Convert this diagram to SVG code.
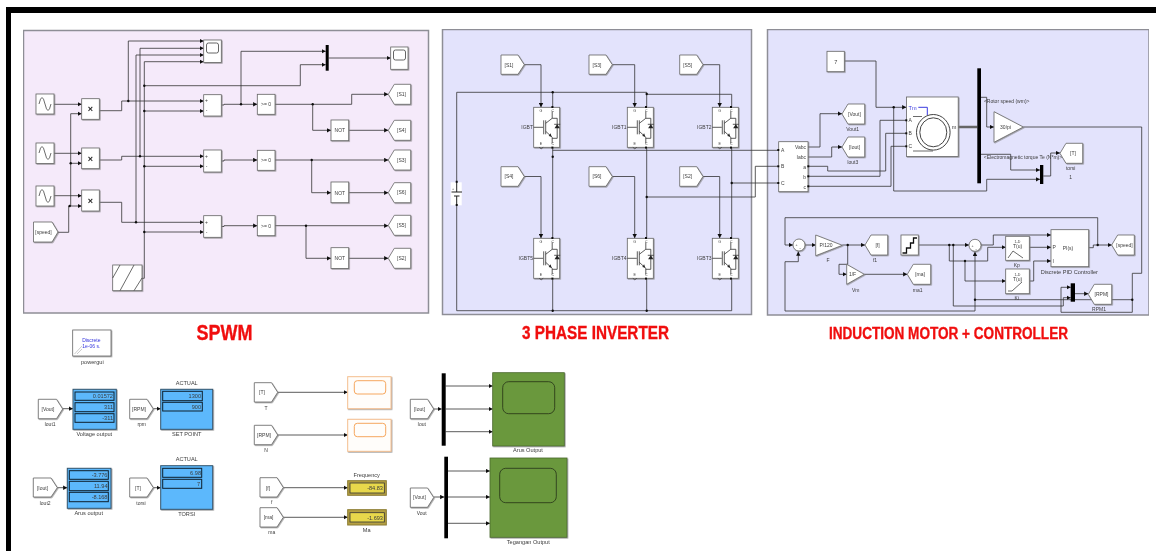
<svg xmlns="http://www.w3.org/2000/svg" width="1156" height="551" viewBox="0 0 1156 551">
<style>
text{font-family:"Liberation Sans",Arial,sans-serif;fill:#3c3c3c;font-size:5.6px;text-anchor:middle}
.s{font-size:5px}.xs{font-size:3.6px}
.l{text-anchor:start}.r{text-anchor:end}
.ttl{fill:#f01010;font-weight:bold;stroke:#f01010;stroke-width:.35}
.b{fill:#fff;stroke:#666;stroke-width:.8;filter:url(#sh)}
.w{fill:none;stroke:#333;stroke-width:.8}
.a{marker-end:url(#ar)}
.j{fill:#111}
.bar{fill:#000}
.p{stroke:#8e8e96;stroke-width:1.5}
.g{fill:none;stroke:#444;stroke-width:.8}
.d{fill:#5cb8fc;stroke:#33566e;stroke-width:1;filter:url(#sh)}
.f{fill:#5cb8fc;stroke:#10202c;stroke-width:1}
.gs{fill:#6a983c;stroke:#4a6a2a;stroke-width:.8;filter:url(#sh)}
.gi{fill:none;stroke:#2c3d1c;stroke-width:.9}
.os{fill:#fffdfa;stroke:#f5c090;stroke-width:1;filter:url(#sh)}
.oi{fill:none;stroke:#f6a75e;stroke-width:1}
.yd{fill:#b5a043;stroke:#8a7a30;stroke-width:1}
.yf{fill:#e8d84c;stroke:#333;stroke-width:.8}
</style>
<defs>
<filter id="sh" x="-10%" y="-10%" width="125%" height="125%"><feDropShadow dx=".8" dy=".8" stdDeviation=".4" flood-color="#777" flood-opacity=".7"/></filter>
<filter id="soft" x="0" y="0" width="100%" height="100%"><feGaussianBlur stdDeviation=".3"/></filter>
<marker id="ar" markerUnits="userSpaceOnUse" markerWidth="5" markerHeight="5" refX="4.2" refY="2.5" orient="auto"><path d="M0 .3 L4.2 2.500 L0 4.700Z" fill="#111"/></marker>
<g id="sine"><path d="M3 10Q6 -3 9 10T15 10" fill="none" stroke="#444" stroke-width=".8"/></g>
<g id="igbtg">
<path d="M0 20H9.500M10 13V27M12 13V27M12 16L18.500 11V4M12 24L18.500 30V36M18.500 11H23.500V31H18.500M20.500 17H26.500" fill="none" stroke="#333" stroke-width=".8"/>
<path d="M23.500 17L20.800 21H26.200Z" fill="#222"/><path d="M18 29.500L15 28.600L16.800 26Z" fill="#222"/>
<path d="M5.500 40Q7.500 43 9.500 40" fill="none" stroke="#333" stroke-width=".7"/>
<rect x="17.700" y="-1.300" width="2" height="2" fill="#111"/><rect x="17.700" y="39.300" width="2" height="2" fill="#111"/>
</g>
</defs>
<rect width="1156" height="551" fill="#fff"/>
<g id="frame" fill="#000"><rect x="6" y="7" width="1150" height="6"/><rect x="6" y="7" width="5" height="544"/></g>
<g filter="url(#soft)">
<g id="panels">
<rect class="p" x="23.500" y="30.500" width="405" height="282.500" fill="#f5eafa"/>
<rect class="p" x="442.500" y="29.500" width="309" height="285" fill="#e3e3fc"/>
<rect class="p" x="767.500" y="29.500" width="381.500" height="285.500" fill="#e3e3fc"/>
</g>
<g id="titles">
<text class="ttl" x="224.500" y="340" style="font-size:22px" textLength="56" lengthAdjust="spacingAndGlyphs">SPWM</text>
<text class="ttl" x="595.500" y="339" style="font-size:18px" textLength="147" lengthAdjust="spacingAndGlyphs">3 PHASE INVERTER</text>
<text class="ttl" x="948.500" y="339" style="font-size:16px" textLength="239" lengthAdjust="spacingAndGlyphs">INDUCTION MOTOR + CONTROLLER</text>
</g>
<g id="connectors">
<path class="w a" d="M54 104.300H81.700"/><path class="w a" d="M54 153.300H81.700"/><path class="w a" d="M54 195.700H81.700"/>
<path class="w" d="M58 232.300H68.700V206"/><path class="w a" d="M68.700 206H81.700"/><path class="w" d="M70.700 206V113.700"/><path class="w a" d="M70.700 113.700H81.700"/><path class="w a" d="M70.700 163.300H81.700"/>
<path class="w a" d="M99.300 110.700H121.700V101H203.700"/><path class="w a" d="M128.300 101V41H203.700"/>
<path class="w a" d="M99.300 160H121.700V156.300H203.700"/><path class="w a" d="M140 156.300V48.300H203.700"/>
<path class="w a" d="M99.300 202.300H121.700V222.300H203.700"/><path class="w a" d="M136 222.300V55H203.700"/>
<path class="w a" d="M142 278.300H144.300V61.700H203.700"/>
<path class="w a" d="M144.300 111H203.700"/><path class="w a" d="M144.300 166.300H203.700"/><path class="w a" d="M144.300 232H203.700"/>
<path class="w a" d="M144.300 85.700H300.300V64.700H325.700"/>
<path class="w a" d="M221.300 105H224V104.300H257.300"/><path class="w a" d="M241 104.300V51.300H325.700"/>
<path class="w a" d="M221.300 161H224V160H257.300"/><path class="w a" d="M221.300 226.500H224V225.700H257.300"/>
<path class="w a" d="M328.700 58H390.700"/>
<path class="w a" d="M275 104.300H351.700V94.300H388.300"/><path class="w a" d="M312.700 104.300V130.300H331"/><path class="w a" d="M348.700 130.300H388.300"/>
<path class="w a" d="M275 160H388.300"/><path class="w a" d="M311.700 160V192.700H331"/><path class="w a" d="M348.700 192.700H388.300"/>
<path class="w a" d="M275 225.700H388.300"/><path class="w a" d="M306 225.700V258.300H331"/><path class="w a" d="M348.700 258.300H388.300"/>
<g class="j"><circle cx="69.700" cy="206" r="1.200"/><circle cx="70.700" cy="163.300" r="1.200"/><circle cx="128.300" cy="101" r="1.200"/><circle cx="140" cy="156.300" r="1.200"/><circle cx="136" cy="222.300" r="1.200"/><circle cx="144.300" cy="85.700" r="1.200"/><circle cx="144.300" cy="111" r="1.200"/><circle cx="144.300" cy="166.300" r="1.200"/><circle cx="144.300" cy="232" r="1.200"/><circle cx="241" cy="104.300" r="1.200"/><circle cx="312.700" cy="104.300" r="1.200"/><circle cx="311.700" cy="160" r="1.200"/><circle cx="306" cy="225.700" r="1.200"/></g>
<path class="w a" d="M524.300 64.700H541V107.300"/><path class="w a" d="M612.300 64.700H634.700V107.300"/><path class="w a" d="M703 64.700H719.700V107.300"/>
<path class="w a" d="M524.300 176.500H541V238.300"/><path class="w a" d="M612.300 176.500H634.700V238.300"/><path class="w a" d="M703 176.500H719.700V238.300"/>
<path class="w" d="M456.700 182V92.300H646.700V94.300H731.700V107"/><path class="w" d="M552.700 92.300V107M646.700 94.300V107"/>
<path class="w" d="M456.700 205V310.700H731.700V278.300"/><path class="w" d="M552.700 310.700V278.300M646.700 310.700V278.300"/>
<path class="w" d="M552.700 147.300V238.300M646.700 147.300V238.300M731.700 147.300V238.300"/>
<path class="w" d="M552.700 150.300H778.700M646.700 197H755.300V166.300H778.700M731.700 183H778.700"/>
<g class="j"><circle cx="552.700" cy="92.300" r="1.200"/><circle cx="646.700" cy="94" r="1.200"/><circle cx="552.700" cy="156.700" r="1.200"/><circle cx="646.700" cy="197" r="1.200"/><circle cx="731.700" cy="183" r="1.200"/><circle cx="552.700" cy="310.700" r="1.200"/><circle cx="646.700" cy="310.700" r="1.200"/></g>
<path class="w a" d="M844.300 61H876V107.300H906.300"/>
<path class="w a" d="M808 147H820V113.700H842"/><path class="w a" d="M808 157H831.700V147H842"/>
<path class="w" d="M808 166.300H827.700V171H885.700V133.300H906.300"/><path class="w" d="M808 176.300H880V120.300H906.300"/><path class="w" d="M808 186.300H891V146.300H906.300"/>
<path class="w a" d="M893.700 107.300V191H986.700V179.300H1040"/>
<path d="M958 127H977.300" stroke="#666" stroke-width="2.500" fill="none"/>
<path class="w a" d="M981 97.300H986.700V127H994"/>
<path class="w a" d="M981 154.300H1010.700V170H1040"/>
<path class="w a" d="M1043.300 176H1050.700V153H1060"/>
<path class="w" d="M1023.300 127H1141.700V273.300H1132.300V312.300H1061V287.300"/><path class="w a" d="M1061 287.300H1070.700"/>
<path class="w" d="M1132.300 299.700H975"/>
<path class="w a" d="M975 299.700V251.700"/><path class="w" d="M975 299.700V311H785V261.700H798.300"/><path class="w a" d="M798.300 261.700V251.500"/>
<path class="w" d="M785 245V217.700H1097.700V245"/><path class="w a" d="M785 245H793"/>
<path class="w a" d="M805 245H815.700"/>
<path class="w a" d="M842.300 245H865"/><path class="w a" d="M847.700 245V264.300H839V274.300H846.700"/>
<path class="w a" d="M864.300 274.300H907.300"/>
<path class="w a" d="M918.300 245H969"/>
<path class="w" d="M949.300 245V261H987.700V247.300"/><path class="w a" d="M987.700 247.300H1005.700"/>
<path class="w a" d="M965 261V281H1005.700"/>
<path class="w" d="M953.300 245V306H1063.300V297.700"/><path class="w a" d="M1063.300 297.700H1070.700"/>
<path class="w a" d="M981 245H993.300V235H1051"/>
<path class="w a" d="M1029.300 247.300H1051"/><path class="w a" d="M1029.300 281H1033.700V261H1051"/>
<path class="w a" d="M1088.700 247.700H1093.300V245H1111.700"/>
<path class="w a" d="M1075 293.700H1088.300"/>
<g class="j"><circle cx="893.700" cy="107.300" r="1.200"/><circle cx="847.700" cy="245" r="1.200"/><circle cx="949.300" cy="245" r="1.200"/><circle cx="953.300" cy="245" r="1.200"/><circle cx="965" cy="261" r="1.200"/><circle cx="975" cy="299.700" r="1.200"/><circle cx="1097.700" cy="245" r="1.200"/><circle cx="1132.300" cy="299.700" r="1.200"/></g>
<path class="w a" d="M62.700 408.700H73"/><path class="w a" d="M153.300 408.700H160.700"/><path class="w a" d="M57.300 487.700H67.300"/><path class="w a" d="M153.300 487.700H160.700"/>
<path class="w a" d="M277.700 392.300H347.700"/><path class="w a" d="M277.700 435H347.700"/><path class="w a" d="M283.300 487.700H347.700"/><path class="w a" d="M283.300 517.300H347.700"/>
<path class="w a" d="M433.700 409H441.700"/><path class="w a" d="M445.700 386H492.700"/><path class="w a" d="M445.700 409H492.700"/><path class="w a" d="M445.700 431.700H492.700"/>
<path class="w a" d="M433.700 497H444.300"/><path class="w a" d="M448 471H490"/><path class="w a" d="M448 497H490"/><path class="w a" d="M448 523.300H490"/>
</g>
<g id="sine1"><rect class="b" x="36" y="94" width="18" height="20"/><use href="#sine" x="36" y="94"/></g>
<g id="sine2"><rect class="b" x="36" y="143" width="18" height="20.500"/><use href="#sine" x="36" y="143"/></g>
<g id="sine3"><rect class="b" x="36" y="186" width="18" height="20"/><use href="#sine" x="36" y="186"/></g>
<g id="speedFrom"><polygon class="b" points="33.500,222 52,222 58,232 52,242 33.500,242"/><text class="s" x="43.500" y="234">[speed]</text></g>
<g id="prod1"><rect class="b" x="81.700" y="98.700" width="17.600" height="20.600"/><text x="90.500" y="112" style="font-size:9px;font-weight:bold;fill:#222">×</text></g>
<g id="prod2"><rect class="b" x="81.700" y="148" width="17.600" height="20.700"/><text x="90.500" y="161.500" style="font-size:9px;font-weight:bold;fill:#222">×</text></g>
<g id="prod3"><rect class="b" x="81.700" y="190" width="17.600" height="21"/><text x="90.500" y="203.500" style="font-size:9px;font-weight:bold;fill:#222">×</text></g>
<g id="saw"><rect class="b" x="112.700" y="265" width="29.300" height="25.700"/><path class="g" d="M112.700 278L120 265M120 290.700L134 265M134 290.700L142 278"/></g>
<g id="scopeA"><rect class="b" x="203.700" y="40" width="17.600" height="22.500"/><rect x="206.500" y="43" width="12" height="10" rx="2" fill="#fff" stroke="#555" stroke-width=".9"/></g>
<g id="scopeB"><rect class="b" x="390.700" y="47" width="17.300" height="22.300"/><rect x="393.500" y="50" width="12" height="10" rx="2" fill="#fff" stroke="#555" stroke-width=".9"/></g>
<g id="muxA"><rect class="bar" x="325.700" y="45" width="3" height="25.700"/></g>
<g id="sum1"><rect class="b" x="203.700" y="94.700" width="17.600" height="21.300"/><text class="s" x="206.500" y="102">+</text><text class="s" x="206.500" y="112">-</text></g>
<g id="sum2"><rect class="b" x="203.700" y="150" width="17.600" height="22"/><text class="s" x="206.500" y="158">+</text><text class="s" x="206.500" y="168">-</text></g>
<g id="sum3"><rect class="b" x="203.700" y="215.700" width="17.600" height="21.600"/><text class="s" x="206.500" y="224">+</text><text class="s" x="206.500" y="234">-</text></g>
<g id="cmp1"><rect class="b" x="257.300" y="94.300" width="17.700" height="20"/><text class="s" x="266" y="106">&gt;= 0</text></g>
<g id="cmp2"><rect class="b" x="257.300" y="150.300" width="17.700" height="20"/><text class="s" x="266" y="162">&gt;= 0</text></g>
<g id="cmp3"><rect class="b" x="257.300" y="215.700" width="17.700" height="20"/><text class="s" x="266" y="227.500">&gt;= 0</text></g>
<g id="not1"><rect class="b" x="331" y="120" width="17.700" height="20.700"/><text class="s" x="339.800" y="132">NOT</text></g>
<g id="not2"><rect class="b" x="331" y="182" width="17.700" height="20.700"/><text class="s" x="339.800" y="194.500">NOT</text></g>
<g id="not3"><rect class="b" x="331" y="247.700" width="17.700" height="20.700"/><text class="s" x="339.800" y="260">NOT</text></g>
<g id="gS1"><polygon class="b" points="388.300,94.300 394.300,84.300 410.700,84.300 410.700,104.300 394.300,104.300"/><text class="s" x="401.500" y="96">[S1]</text></g>
<g id="gS4"><polygon class="b" points="388.300,130.300 394.300,120.300 410.700,120.300 410.700,140.300 394.300,140.300"/><text class="s" x="401.500" y="132">[S4]</text></g>
<g id="gS3"><polygon class="b" points="388.300,160 394.300,150 410.700,150 410.700,170 394.300,170"/><text class="s" x="401.500" y="161.700">[S3]</text></g>
<g id="gS6"><polygon class="b" points="388.300,192.700 394.300,182.700 410.700,182.700 410.700,202.700 394.300,202.700"/><text class="s" x="401.500" y="194.400">[S6]</text></g>
<g id="gS5"><polygon class="b" points="388.300,225.300 394.300,215.300 410.700,215.300 410.700,235.300 394.300,235.300"/><text class="s" x="401.500" y="227">[S5]</text></g>
<g id="gS2"><polygon class="b" points="388.300,258.300 394.300,248.300 410.700,248.300 410.700,268.300 394.300,268.300"/><text class="s" x="401.500" y="260">[S2]</text></g>
<g id="fS1"><polygon class="b" points="501,55 518,55 524.300,64.700 518,74.300 501,74.300"/><text class="s" x="509" y="66.500">[S1]</text></g>
<g id="fS3"><polygon class="b" points="589,55 606,55 612.300,64.700 606,74.300 589,74.300"/><text class="s" x="597" y="66.500">[S3]</text></g>
<g id="fS5"><polygon class="b" points="679.700,55 696.700,55 703,64.700 696.700,74.300 679.700,74.300"/><text class="s" x="687.700" y="66.500">[S5]</text></g>
<g id="fS4"><polygon class="b" points="501,166.700 518,166.700 524.300,176.500 518,186.300 501,186.300"/><text class="s" x="509" y="178.300">[S4]</text></g>
<g id="fS6"><polygon class="b" points="589,166.700 606,166.700 612.300,176.500 606,186.300 589,186.300"/><text class="s" x="597" y="178.300">[S6]</text></g>
<g id="fS2"><polygon class="b" points="679.700,166.700 696.700,166.700 703,176.500 696.700,186.300 679.700,186.300"/><text class="s" x="687.700" y="178.300">[S2]</text></g>
<g id="battery"><rect x="450.700" y="182.300" width="11" height="23" fill="#fff"/><path d="M456.700 182V192M451.500 192H462M454 196H459.500M456.700 196V205" fill="none" stroke="#222" stroke-width="1"/><rect x="455.700" y="180.800" width="2" height="2" fill="#111"/><rect x="455.700" y="204" width="2" height="2" fill="#111"/><text class="xs" x="453" y="190">+</text></g>
<g id="igbt0"><rect class="b" x="533.700" y="107.300" width="26" height="40"/><use href="#igbtg" x="533.700" y="107.300"/><text class="xs" x="541" y="112">G</text><text class="xs" x="552.700" y="112">C</text><text class="xs" x="541" y="145">E</text><text class="xs" x="552.700" y="145">C</text><text class="s r" x="533" y="128.500">IGBT</text></g>
<g id="igbt1"><rect class="b" x="627.300" y="107.300" width="26" height="40"/><use href="#igbtg" x="627.300" y="107.300"/><text class="xs" x="634.700" y="112">G</text><text class="xs" x="646.300" y="112">C</text><text class="xs" x="634.700" y="145">E</text><text class="xs" x="646.300" y="145">C</text><text class="s r" x="626.500" y="128.500">IGBT1</text></g>
<g id="igbt2"><rect class="b" x="712.300" y="107.300" width="26" height="40"/><use href="#igbtg" x="712.300" y="107.300"/><text class="xs" x="719.700" y="112">G</text><text class="xs" x="731.300" y="112">C</text><text class="xs" x="719.700" y="145">E</text><text class="xs" x="731.300" y="145">C</text><text class="s r" x="711.500" y="128.500">IGBT2</text></g>
<g id="igbt5"><rect class="b" x="533.700" y="238.300" width="26" height="40"/><use href="#igbtg" x="533.700" y="238.300"/><text class="xs" x="541" y="243">G</text><text class="xs" x="552.700" y="243">C</text><text class="xs" x="541" y="276">E</text><text class="xs" x="552.700" y="276">C</text><text class="s r" x="533" y="259.500">IGBT5</text></g>
<g id="igbt4"><rect class="b" x="627.300" y="238.300" width="26" height="40"/><use href="#igbtg" x="627.300" y="238.300"/><text class="xs" x="634.700" y="243">G</text><text class="xs" x="646.300" y="243">C</text><text class="xs" x="634.700" y="276">E</text><text class="xs" x="646.300" y="276">C</text><text class="s r" x="626.500" y="259.500">IGBT4</text></g>
<g id="igbt3"><rect class="b" x="712.300" y="238.300" width="26" height="40"/><use href="#igbtg" x="712.300" y="238.300"/><text class="xs" x="719.700" y="243">G</text><text class="xs" x="731.300" y="243">C</text><text class="xs" x="719.700" y="276">E</text><text class="xs" x="731.300" y="276">C</text><text class="s r" x="711.500" y="259.500">IGBT3</text></g>
<g id="const7"><rect class="b" x="827" y="51.300" width="17.300" height="20.400"/><text x="835.700" y="63.500">7</text></g>
<g id="meas"><rect class="b" x="778.700" y="141.700" width="29.300" height="50"/><g class="j"><rect x="777.300" y="149" width="2" height="2"/><rect x="777.300" y="165.300" width="2" height="2"/><rect x="777.300" y="182" width="2" height="2"/><rect x="807.300" y="165.300" width="2" height="2"/><rect x="807.300" y="175.300" width="2" height="2"/><rect x="807.300" y="185.300" width="2" height="2"/></g><text class="s l" x="781" y="152">A</text><text class="s l" x="781" y="168">B</text><text class="s l" x="781" y="185">C</text><text class="s r" x="806" y="149">Vabc</text><text class="s r" x="806" y="159">Iabc</text><text class="s r" x="806" y="168.500">a</text><text class="s r" x="806" y="178.500">b</text><text class="s r" x="806" y="188.500">c</text></g>
<g id="gVout"><polygon class="b" points="842,114 848,104 864.700,104 864.700,124 848,124"/><text class="s" x="854.500" y="115.800">[Vout]</text><text class="s" x="852.700" y="131">Vout1</text></g>
<g id="gIout"><polygon class="b" points="842,147 848,137 864.700,137 864.700,157 848,157"/><text class="s" x="854.500" y="148.800">[Iout]</text><text class="s" x="852.700" y="163.500">Iout3</text></g>
<g id="motor"><rect class="b" x="906.500" y="97" width="51.700" height="59.500"/><g class="j"><rect x="905.300" y="119.300" width="2" height="2"/><rect x="905.300" y="132.300" width="2" height="2"/><rect x="905.300" y="145.300" width="2" height="2"/></g><ellipse cx="933.300" cy="132.300" rx="16.800" ry="17.800" fill="none" stroke="#444" stroke-width="1"/><ellipse cx="933.300" cy="132.300" rx="13.500" ry="14.500" fill="none" stroke="#444" stroke-width="1"/><path d="M918.300 107.300H927.300V115" fill="none" stroke="#3a3adf" stroke-width="1"/><path class="g" d="M913 116.500H922M913 151H933"/><text class="l" x="908.500" y="109.500" style="fill:#4040e0">Tm</text><text class="s l" x="908.500" y="122">A</text><text class="s l" x="908.500" y="135">B</text><text class="s l" x="908.500" y="148">C</text><text class="r" x="956.500" y="128.500">m</text></g>
<g id="bus"><rect class="bar" x="977.300" y="68.300" width="3.700" height="115"/></g>
<text class="s" x="1006.700" y="103">&lt;Rotor speed (wm)&gt;</text>
<text class="s" x="1023" y="159">&lt;Electromagnetic torque Te (N*m)&gt;</text>
<g id="gain30"><polygon class="b" points="994,111.700 1023.300,127 994,142.300"/><text class="s" x="1005.500" y="129">30/pi</text></g>
<g id="muxT"><rect class="bar" x="1040" y="165" width="3.300" height="19"/></g>
<g id="gT"><polygon class="b" points="1060,153.300 1066,143.300 1082.700,143.300 1082.700,163.300 1066,163.300"/><text class="s" x="1073" y="155">[T]</text><text class="s" x="1070.700" y="170">torsi</text><text class="s" x="1070.700" y="179">1</text></g>
<g id="sumA"><circle class="b" cx="799" cy="245" r="6"/><text class="xs" x="796.500" y="246">+</text><text class="xs" x="800" y="249">-</text></g>
<g id="gainF"><polygon class="b" points="815.700,235 842.300,245.300 815.700,255.700"/><text class="s" x="826" y="247">P/120</text><text class="s" x="828" y="261.500">F</text></g>
<g id="gF"><polygon class="b" points="865,245 871,235 887.700,235 887.700,255 871,255"/><text class="s" x="877.500" y="247">[f]</text><text class="s" x="875" y="262">f1</text></g>
<g id="gainV"><polygon class="b" points="846.700,264.300 864.300,274.300 846.700,284.300"/><text class="s" x="852.500" y="276.300">1/F</text><text class="s" x="855.700" y="291.500">Vm</text></g>
<g id="gMa"><polygon class="b" points="907.300,274.300 913.300,264.300 930.700,264.300 930.700,284.300 913.300,284.300"/><text class="s" x="920" y="276.200">[ma]</text><text class="s" x="917.700" y="291.500">ma1</text></g>
<g id="stair"><rect class="b" x="901" y="235" width="17.300" height="20"/><path d="M902.500 253H906.500V248H910.500V243H913.500V238H917" fill="none" stroke="#111" stroke-width="1.300"/></g>
<g id="sumB"><circle class="b" cx="975" cy="245.300" r="6"/><text class="xs" x="972.500" y="246.500">+</text><text class="xs" x="976" y="249.500">-</text></g>
<g id="kp"><rect class="b" x="1005.700" y="236.300" width="23.600" height="24"/><text class="xs" x="1017.500" y="243">1-D</text><text class="s" x="1017.500" y="248">T(u)</text><path class="g" d="M1008 258L1013 251L1023 258" stroke-width=".6"/><text class="s" x="1016.700" y="267.300">Kp</text></g>
<g id="ki"><rect class="b" x="1005.700" y="269" width="23.600" height="24.700"/><text class="xs" x="1017.500" y="276">1-D</text><text class="s" x="1017.500" y="281">T(u)</text><path class="g" d="M1008 291H1012L1022 282" stroke-width=".6"/><text class="s" x="1016.700" y="300">Ki</text></g>
<g id="pid"><rect class="b" x="1051" y="229.700" width="37.700" height="37"/><text class="s l" x="1052.500" y="249">P</text><text class="s l" x="1052.500" y="262.500">I</text><text class="s" x="1068" y="249.500">PI(s)</text><text x="1069.300" y="274.300">Discrete PID Controller</text></g>
<g id="gSpeed"><polygon class="b" points="1111.700,245 1117.700,235 1134.300,235 1134.300,255 1117.700,255"/><text class="s" x="1124.500" y="246.800">[speed]</text></g>
<g id="muxR"><rect class="bar" x="1070.700" y="283.300" width="4.300" height="18.400"/></g>
<g id="gRPM"><polygon class="b" points="1088.300,294.300 1094.300,284.300 1111.700,284.300 1111.700,304.300 1094.300,304.300"/><text class="s" x="1101.500" y="296">[RPM]</text><text class="s" x="1099" y="311">RPM1</text></g>
<g id="powergui"><rect class="b" x="72.700" y="330" width="38.300" height="26"/><text class="s" x="91.300" y="341.500" style="fill:#3333dd">Discrete</text><text class="s" x="91.300" y="348.300" style="fill:#3333dd">1e-06 s.</text><path d="M74.500 354L82 346M77 354L82 349" stroke="#aaa" stroke-width=".6" fill="none"/><text x="92.300" y="363.500">powergui</text></g>
<g id="fVout"><polygon class="b" points="38.300,399.300 56.500,399.300 62.700,409 56.500,418.700 38.300,418.700"/><text class="s" x="48" y="410.800">[Vout]</text><text class="s" x="50" y="425.500">Iout1</text></g>
<g id="dispV"><rect class="d" x="73" y="389.300" width="43.300" height="40"/><rect class="f" x="75" y="392" width="39" height="8.300"/><rect class="f" x="75" y="402.700" width="39" height="9"/><rect class="f" x="75" y="413.700" width="39" height="8.600"/><text class="r" x="113" y="398">0.01572</text><text class="r" x="113" y="409">311</text><text class="r" x="113" y="420">-311</text><text x="94.300" y="435.800">Voltage output</text></g>
<g id="fRPM"><polygon class="b" points="129.700,399.300 147,399.300 153.300,409 147,418.700 129.700,418.700"/><text class="s" x="139" y="410.800">[RPM]</text><text class="s" x="141.700" y="425.500">rpm</text></g>
<g id="dispR"><rect class="d" x="160.700" y="389.300" width="52" height="40"/><rect class="f" x="162.700" y="391.300" width="39.600" height="9.400"/><rect class="f" x="162.700" y="402.300" width="39.600" height="8.700"/><text class="r" x="201" y="398">1300</text><text class="r" x="201" y="409">900</text><text x="186.700" y="385.300">ACTUAL</text><text x="186.700" y="435.500">SET POINT</text></g>
<g id="fIout"><polygon class="b" points="33.300,478 51,478 57.300,487.700 51,497 33.300,497"/><text class="s" x="42.500" y="489.500">[Iout]</text><text class="s" x="45" y="504.500">Iout2</text></g>
<g id="dispI"><rect class="d" x="67.300" y="468.300" width="43.700" height="40"/><rect class="f" x="69.300" y="470.700" width="39" height="8.600"/><rect class="f" x="69.300" y="481.300" width="39" height="9.400"/><rect class="f" x="69.300" y="492.300" width="39" height="9.400"/><text class="r" x="107.500" y="477">-3.776</text><text class="r" x="107.500" y="488">11.94</text><text class="r" x="107.500" y="499">-8.168</text><text x="88.700" y="514.500">Arus output</text></g>
<g id="fT"><polygon class="b" points="129.700,478 147,478 153.300,487.700 147,497 129.700,497"/><text class="s" x="138" y="489.500">[T]</text><text class="s" x="141" y="504.500">torsi</text></g>
<g id="dispT"><rect class="d" x="160.700" y="465.700" width="52" height="43.600"/><rect class="f" x="162.700" y="468.300" width="39" height="9"/><rect class="f" x="162.700" y="479.300" width="39" height="9"/><text class="r" x="201" y="475">6.98</text><text class="r" x="200" y="486">7</text><text x="186.700" y="460.500">ACTUAL</text><text x="186.700" y="516">TORSI</text></g>
<g id="fT2"><polygon class="b" points="254.300,382.700 271.500,382.700 277.700,392.300 271.500,402 254.300,402"/><text class="s" x="262" y="394">[T]</text><text class="s" x="266" y="409.500">T</text></g>
<g id="scopeT"><rect class="os" x="347.700" y="376.700" width="43.300" height="32"/><rect class="oi" x="354.300" y="380.700" width="31.400" height="13.300" rx="3"/></g>
<g id="fR2"><polygon class="b" points="254.300,425.300 271.500,425.300 277.700,435 271.500,444.700 254.300,444.700"/><text class="s" x="264" y="437">[RPM]</text><text class="s" x="266" y="452">N</text></g>
<g id="scopeN"><rect class="os" x="347.700" y="419.300" width="43.300" height="32"/><rect class="oi" x="354.300" y="423.300" width="31.400" height="13.400" rx="3"/></g>
<g id="ff"><polygon class="b" points="260,477.700 277,477.700 283.300,487.500 277,497 260,497"/><text class="s" x="268" y="489.500">[f]</text><text class="s" x="271.700" y="504">f</text></g>
<g id="dispF"><rect class="yd" x="347.700" y="480.700" width="38.600" height="14.600"/><rect class="yf" x="350" y="483" width="34.300" height="10"/><text class="r" x="383" y="490">-84.83</text><text x="366.700" y="477">Frequency</text></g>
<g id="fma"><polygon class="b" points="260,507.700 277,507.700 283.300,517.300 277,527 260,527"/><text class="s" x="268.500" y="519.300">[ma]</text><text class="s" x="271.700" y="534">ma</text></g>
<g id="dispM"><rect class="yd" x="347.700" y="509.700" width="38.600" height="15.300"/><rect class="yf" x="350" y="512.700" width="34.300" height="9.300"/><text class="r" x="383" y="519.700">-1.693</text><text x="366.700" y="531.800">Ma</text></g>
<g id="muxI"><rect class="bar" x="441.700" y="373.300" width="4" height="72.400"/></g>
<g id="fI3"><polygon class="b" points="410.300,399.300 427.500,399.300 433.700,409 427.500,418.700 410.300,418.700"/><text class="s" x="419.500" y="410.800">[Iout]</text><text class="s" x="421.700" y="425.500">Iout</text></g>
<g id="scopeI"><rect class="gs" x="492.700" y="372.700" width="71.600" height="73.300"/><rect class="gi" x="502.700" y="381.700" width="52" height="32" rx="6"/><text x="528" y="452">Arus Output</text></g>
<g id="muxV"><rect class="bar" x="444.300" y="456.700" width="3.700" height="81.600"/></g>
<g id="fV3"><polygon class="b" points="410.300,488 427.500,488 433.700,497.500 427.500,507.300 410.300,507.300"/><text class="s" x="419.500" y="499.300">[Vout]</text><text class="s" x="421.700" y="514.500">Vout</text></g>
<g id="scopeV"><rect class="gs" x="490" y="458" width="77" height="79.300"/><rect class="gi" x="499.700" y="468.300" width="56.600" height="34.400" rx="6"/><text x="528.300" y="544">Tegangan Output</text></g>
</g>
</svg>
